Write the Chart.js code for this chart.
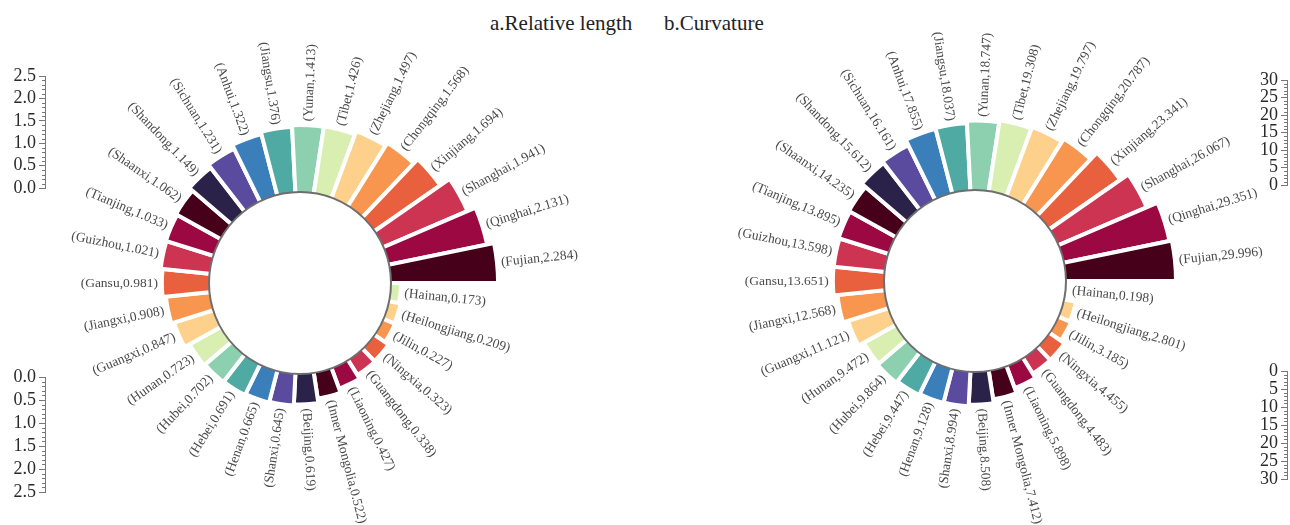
<!DOCTYPE html>
<html>
<head>
<meta charset="utf-8">
<script src="https://cdn.jsdelivr.net/npm/chart.js"></script>
<style>
  html, body { margin: 0; padding: 0; background: #fff; }
  body { width: 1290px; height: 525px; position: relative; overflow: hidden; }
  canvas { position: absolute; }
  .title { position: absolute; top: 11px; font-family: "Liberation Serif", serif; font-size: 21px; color: #222; white-space: nowrap; }
</style>
</head>
<body>
<div class="title" style="left:490px">a.Relative length</div>
<div class="title" style="left:664px">b.Curvature</div>

<canvas id="polarA" width="600" height="600" style="left:0px;top:-17px"></canvas>
<canvas id="polarB" width="600" height="600" style="left:675px;top:-19px"></canvas>

<canvas id="axisA1" width="50" height="136" style="left:0px;top:64px"></canvas>
<canvas id="axisA2" width="50" height="139" style="left:0px;top:365px"></canvas>
<canvas id="axisB1" width="48" height="129" style="left:1242px;top:68px"></canvas>
<canvas id="axisB2" width="48" height="132" style="left:1242px;top:359px"></canvas>

<script>
// Provinces, ordered counter-clockwise starting from 3 o'clock
const provinces = ["Fujian", "Qinghai", "Shanghai", "Xinjiang", "Chongqing", "Zhejiang", "Tibet",
  "Yunan", "Jiangsu", "Anhui", "Sichuan", "Shandong", "Shaanxi", "Tianjing", "Guizhou", "Gansu",
  "Jiangxi", "Guangxi", "Hunan", "Hubei", "Hebei", "Henan", "Shanxi", "Beijing", "Inner Mongolia",
  "Liaoning", "Guangdong", "Ningxia", "Jilin", "Heilongjiang", "Hainan"];

const relativeLength = [2.284, 2.131, 1.941, 1.694, 1.568, 1.497, 1.426, 1.413, 1.376, 1.322,
  1.231, 1.149, 1.062, 1.033, 1.021, 0.981, 0.908, 0.847, 0.723, 0.702, 0.691, 0.665, 0.645,
  0.619, 0.522, 0.427, 0.338, 0.323, 0.227, 0.209, 0.173];

const curvature = [29.996, 29.351, 26.067, 23.341, 20.787, 19.797, 19.308, 18.747, 18.037,
  17.855, 16.161, 15.612, 14.235, 13.895, 13.598, 13.651, 12.568, 11.121, 9.472, 9.864, 9.447,
  9.128, 8.994, 8.508, 7.412, 5.898, 4.483, 4.455, 3.185, 2.801, 0.198];

const lengthTicks = [0, 0.5, 1.0, 1.5, 2.0, 2.5];
const curvatureTicks = [0, 5, 10, 15, 20, 25, 30];

// Repeating 12-colour cycle for the bars
const palette = ["#470019", "#9c0841", "#cc3451", "#e9603f", "#f8964f", "#fdd18b",
  "#d9efb2", "#8dd0b0", "#4eaaa3", "#3a7fba", "#5b4b9e", "#2b2249"];

const SERIF = '"Liberation Serif", "Times New Roman", serif';

// Inner hole + rotated "(name,value)" labels at the end of each bar
const ringPlugin = {
  id: 'ring',
  afterDatasetsDraw(chart, args, opts) {
    const scale = chart.scales.r;
    const ctx = chart.ctx;
    const cx = scale.xCenter, cy = scale.yCenter;
    ctx.save();
    ctx.beginPath();
    ctx.arc(cx, cy, opts.innerPx, 0, Math.PI * 2);
    ctx.fillStyle = '#fff';
    ctx.fill();
    ctx.lineWidth = 2;
    ctx.strokeStyle = '#6e6e6e';
    ctx.stroke();

    const meta = chart.getDatasetMeta(0);
    const ds = chart.data.datasets[0];
    ctx.font = '13.5px ' + SERIF;
    ctx.fillStyle = '#4a4a4a';
    ctx.textBaseline = 'middle';
    meta.data.forEach((arc, i) => {
      const p = arc.getProps(['startAngle', 'endAngle', 'outerRadius'], true);
      const mid = (p.startAngle + p.endAngle) / 2;
      const r = p.outerRadius + opts.gap;
      const text = '(' + chart.data.labels[i] + ',' + ds.data[i].toFixed(3) + ')';
      ctx.save();
      ctx.translate(cx + r * Math.cos(mid), cy + r * Math.sin(mid));
      if (Math.cos(mid) > -1e-6) {
        ctx.rotate(mid);
        ctx.textAlign = 'left';
      } else {
        ctx.rotate(mid + Math.PI);
        ctx.textAlign = 'right';
      }
      ctx.fillText(text, 0, 0);
      ctx.restore();
    });
    ctx.restore();
  }
};

function makeRing(id, values, innerPx, pxPerUnit) {
  const border = 4;
  // the library draws clockwise, so feed the bars in reverse order:
  // the last one (Fujian) then ends exactly at 3 o'clock
  const labels = provinces.slice().reverse();
  const data = values.slice().reverse();
  const colors = provinces.map((_, i) => palette[i % palette.length]).reverse();
  const zeroPx = innerPx + border / 2;
  const rMin = -zeroPx / pxPerUnit;
  const rMax = rMin + 300 / pxPerUnit;
  return new Chart(document.getElementById(id), {
    type: 'polarArea',
    data: {
      labels,
      datasets: [{ data, backgroundColor: colors, borderColor: '#ffffff', borderWidth: border }]
    },
    options: {
      responsive: false,
      animation: false,
      events: [],
      layout: { padding: 0 },
      plugins: {
        legend: { display: false },
        tooltip: { enabled: false },
        ring: { innerPx, gap: 4 }
      },
      scales: {
        r: {
          min: rMin, max: rMax, beginAtZero: false,
          startAngle: 90,
          grid: { display: false },
          angleLines: { display: false },
          ticks: { display: false },
          pointLabels: { display: false }
        }
      }
    },
    plugins: [ringPlugin]
  });
}

// Short minor ticks between the labelled ones
const minorTicksPlugin = {
  id: 'minorTicks',
  afterDraw(chart, args, opts) {
    const s = chart.scales.y;
    const ctx = chart.ctx;
    const vals = opts.values;
    ctx.save();
    ctx.strokeStyle = '#777';
    ctx.lineWidth = 1;
    for (let k = 0; k < vals.length - 1; k++) {
      const d = (vals[k + 1] - vals[k]) / opts.parts;
      for (let j = 1; j < opts.parts; j++) {
        const y = Math.round(s.getPixelForValue(vals[k] + j * d)) + 0.5;
        ctx.beginPath();
        ctx.moveTo(s.right - 3, y);
        ctx.lineTo(s.right, y);
        ctx.stroke();
      }
    }
    ctx.restore();
  }
};

function makeAxis(id, tickValues, decimals, reverse) {
  return new Chart(document.getElementById(id), {
    type: 'scatter',
    data: { datasets: [] },
    options: {
      responsive: false,
      animation: false,
      events: [],
      layout: { padding: { top: 12, bottom: 12, left: 0, right: 0 } },
      plugins: {
        legend: { display: false },
        tooltip: { enabled: false },
        minorTicks: { values: tickValues, parts: 5 }
      },
      scales: {
        x: { display: false },
        y: {
          type: 'linear',
          position: 'left',
          reverse,
          min: tickValues[0],
          max: tickValues[tickValues.length - 1],
          afterFit: (s) => { s.width = 45; },
          afterBuildTicks: (s) => { s.ticks = tickValues.map(v => ({ value: v })); },
          border: { display: true, color: '#777', width: 1 },
          grid: { drawOnChartArea: false, drawTicks: true, tickLength: 6, color: '#777' },
          ticks: {
            autoSkip: false,
            padding: 3,
            color: '#2a2a2a',
            font: { family: SERIF, size: 18, lineHeight: 1 },
            callback: (v) => Number(v).toFixed(decimals)
          }
        }
      }
    },
    plugins: [minorTicksPlugin]
  });
}

makeRing('polarA', relativeLength, 91, 46);
makeRing('polarB', curvature, 91, 3.6);

makeAxis('axisA1', lengthTicks, 1, false);
makeAxis('axisA2', lengthTicks, 1, true);
makeAxis('axisB1', curvatureTicks, 0, false);
makeAxis('axisB2', curvatureTicks, 0, true);
</script>
</body>
</html>
